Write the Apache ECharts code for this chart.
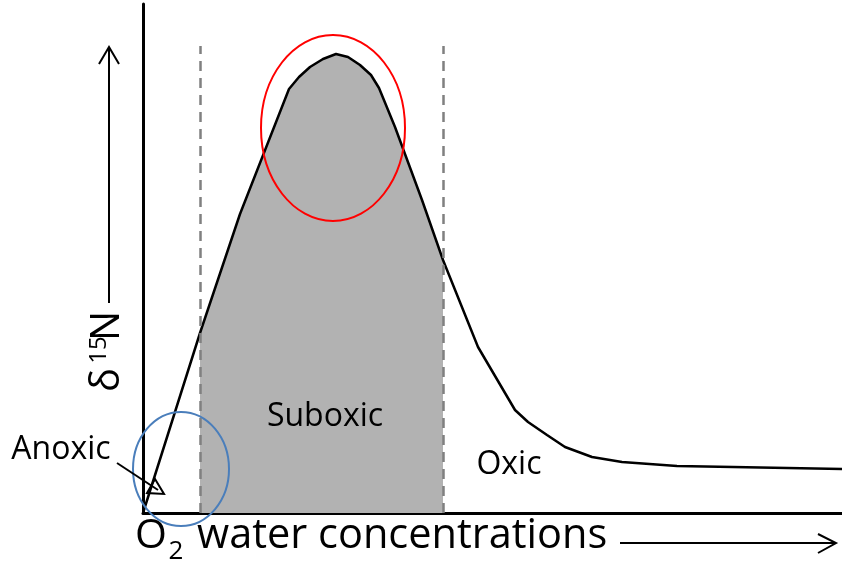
<!DOCTYPE html>
<html>
<head>
<meta charset="utf-8">
<script src="https://cdn.jsdelivr.net/npm/echarts@6/dist/echarts.min.js"></script>
<style>
  html, body { margin: 0; padding: 0; background: #fff; }
  #container { width: 842px; height: 563px; }
</style>
</head>
<body>
<div id="container"></div>
<script type="text/javascript">
// d15N vs O2 curve (x: O2, y: d15N, arbitrary units)
var curveX = [0, 57, 97, 146, 156, 167, 180, 193, 205, 217, 228, 236, 252, 279, 300, 335, 372, 385, 404, 422, 449, 479, 534, 590, 699];
var curveY = [0, 180, 299, 424, 436, 446, 454, 459, 456, 448, 438, 425, 386, 313, 253, 166, 103, 91, 78, 66, 56, 51, 47, 46, 44];
// suboxic zone limits
var zoneLimits = [57, 300];
var zoneTop = 467;

var curve = curveX.map(function (x, i) { return [x, curveY[i]]; });
var zone = curve.filter(function (p) { return p[0] >= zoneLimits[0] && p[0] <= zoneLimits[1]; });

var myChart = echarts.init(document.getElementById('container'));
var font = '"Open Sans", sans-serif';

var option = {
    animation: false,
    backgroundColor: '#fff',
    grid: { left: 143, right: 0, top: 4, bottom: 50 },
    xAxis: {
        type: 'value', min: 0, max: 699,
        axisLine: { show: true, lineStyle: { color: '#000', width: 3 } },
        axisTick: { show: false }, axisLabel: { show: false }, splitLine: { show: false }
    },
    yAxis: {
        type: 'value', min: 0, max: 509,
        axisLine: { show: true, lineStyle: { color: '#000', width: 3 } },
        axisTick: { show: false }, axisLabel: { show: false }, splitLine: { show: false }
    },
    series: [
        {
            // shaded suboxic area
            type: 'line', data: zone, symbol: 'none', z: 1,
            lineStyle: { width: 0 },
            areaStyle: { color: '#b2b2b2', opacity: 1 }
        },
        {
            type: 'line', data: curve, symbol: 'none', z: 3,
            lineStyle: { color: '#000', width: 2.5 },
            markLine: {
                symbol: 'none', silent: true,
                label: { show: false },
                lineStyle: { color: '#808080', width: 2.5, type: [10, 7] },
                data: zoneLimits.map(function (x) {
                    return [{ coord: [x, 0] }, { coord: [x, zoneTop] }];
                })
            }
        }
    ]
};
myChart.setOption(option);

// annotations: ellipses in data units
function px(x, y) { return myChart.convertToPixel({ gridIndex: 0 }, [x, y]); }
var redC = px(190, 385), blueC = px(38, 44);

var textStyle = function (t, x, y, size) {
    return { type: 'text', x: x, y: y, z: 10,
        style: { text: t, font: size + 'px ' + font, fill: '#000', align: 'center', verticalAlign: 'middle' } };
};

myChart.setOption({
    graphic: [
        { type: 'ellipse', z: 10, shape: { cx: redC[0], cy: redC[1], rx: 72, ry: 93 },
          style: { fill: 'none', stroke: '#ff0000', lineWidth: 2 } },
        { type: 'ellipse', z: 10, shape: { cx: blueC[0], cy: blueC[1], rx: 48, ry: 57 },
          style: { fill: 'none', stroke: '#4a7ebb', lineWidth: 2 } },
        textStyle('Anoxic', 61, 450, 32),
        textStyle('Suboxic', 325, 417, 32),
        textStyle('Oxic', 509, 465, 32),
        // anoxic arrow
        { type: 'line', z: 10, shape: { x1: 117, y1: 463, x2: 158, y2: 490 },
          style: { stroke: '#000', lineWidth: 2 } },
        { type: 'polygon', z: 10, shape: { points: [[155, 479], [164, 494], [147, 493]] },
          style: { fill: 'none', stroke: '#000', lineWidth: 2 } },
        // x axis title
        textStyle('O', 151, 536, 41),
        textStyle('2', 176, 552, 26),
        { type: 'text', x: 197, y: 536, z: 10,
          style: { text: 'water concentrations', font: '41.5px ' + font, fill: '#000', align: 'left', verticalAlign: 'middle' } },
        { type: 'line', z: 10, shape: { x1: 620, y1: 543, x2: 835, y2: 543 },
          style: { stroke: '#000', lineWidth: 2 } },
        { type: 'polyline', z: 10, shape: { points: [[818, 534], [836, 543], [818, 553]] },
          style: { fill: 'none', stroke: '#000', lineWidth: 2 } },
        // y axis title
        { type: 'text', x: 108, y: 380, rotation: Math.PI / 2, z: 10,
          style: { text: 'δ', font: '40px ' + font, fill: '#000', align: 'center', verticalAlign: 'middle' } },
        { type: 'text', x: 99, y: 350, rotation: Math.PI / 2, z: 10,
          style: { text: '15', font: '24px ' + font, fill: '#000', align: 'center', verticalAlign: 'middle' } },
        { type: 'text', x: 108, y: 326, rotation: Math.PI / 2, z: 10,
          style: { text: 'N', font: '40px ' + font, fill: '#000', align: 'center', verticalAlign: 'middle' } },
        { type: 'line', z: 10, shape: { x1: 109, y1: 303, x2: 109, y2: 48 },
          style: { stroke: '#000', lineWidth: 2 } },
        { type: 'polyline', z: 10, shape: { points: [[99, 64], [109, 47], [119, 64]] },
          style: { fill: 'none', stroke: '#000', lineWidth: 2 } }
    ]
});
</script>
</body>
</html>
